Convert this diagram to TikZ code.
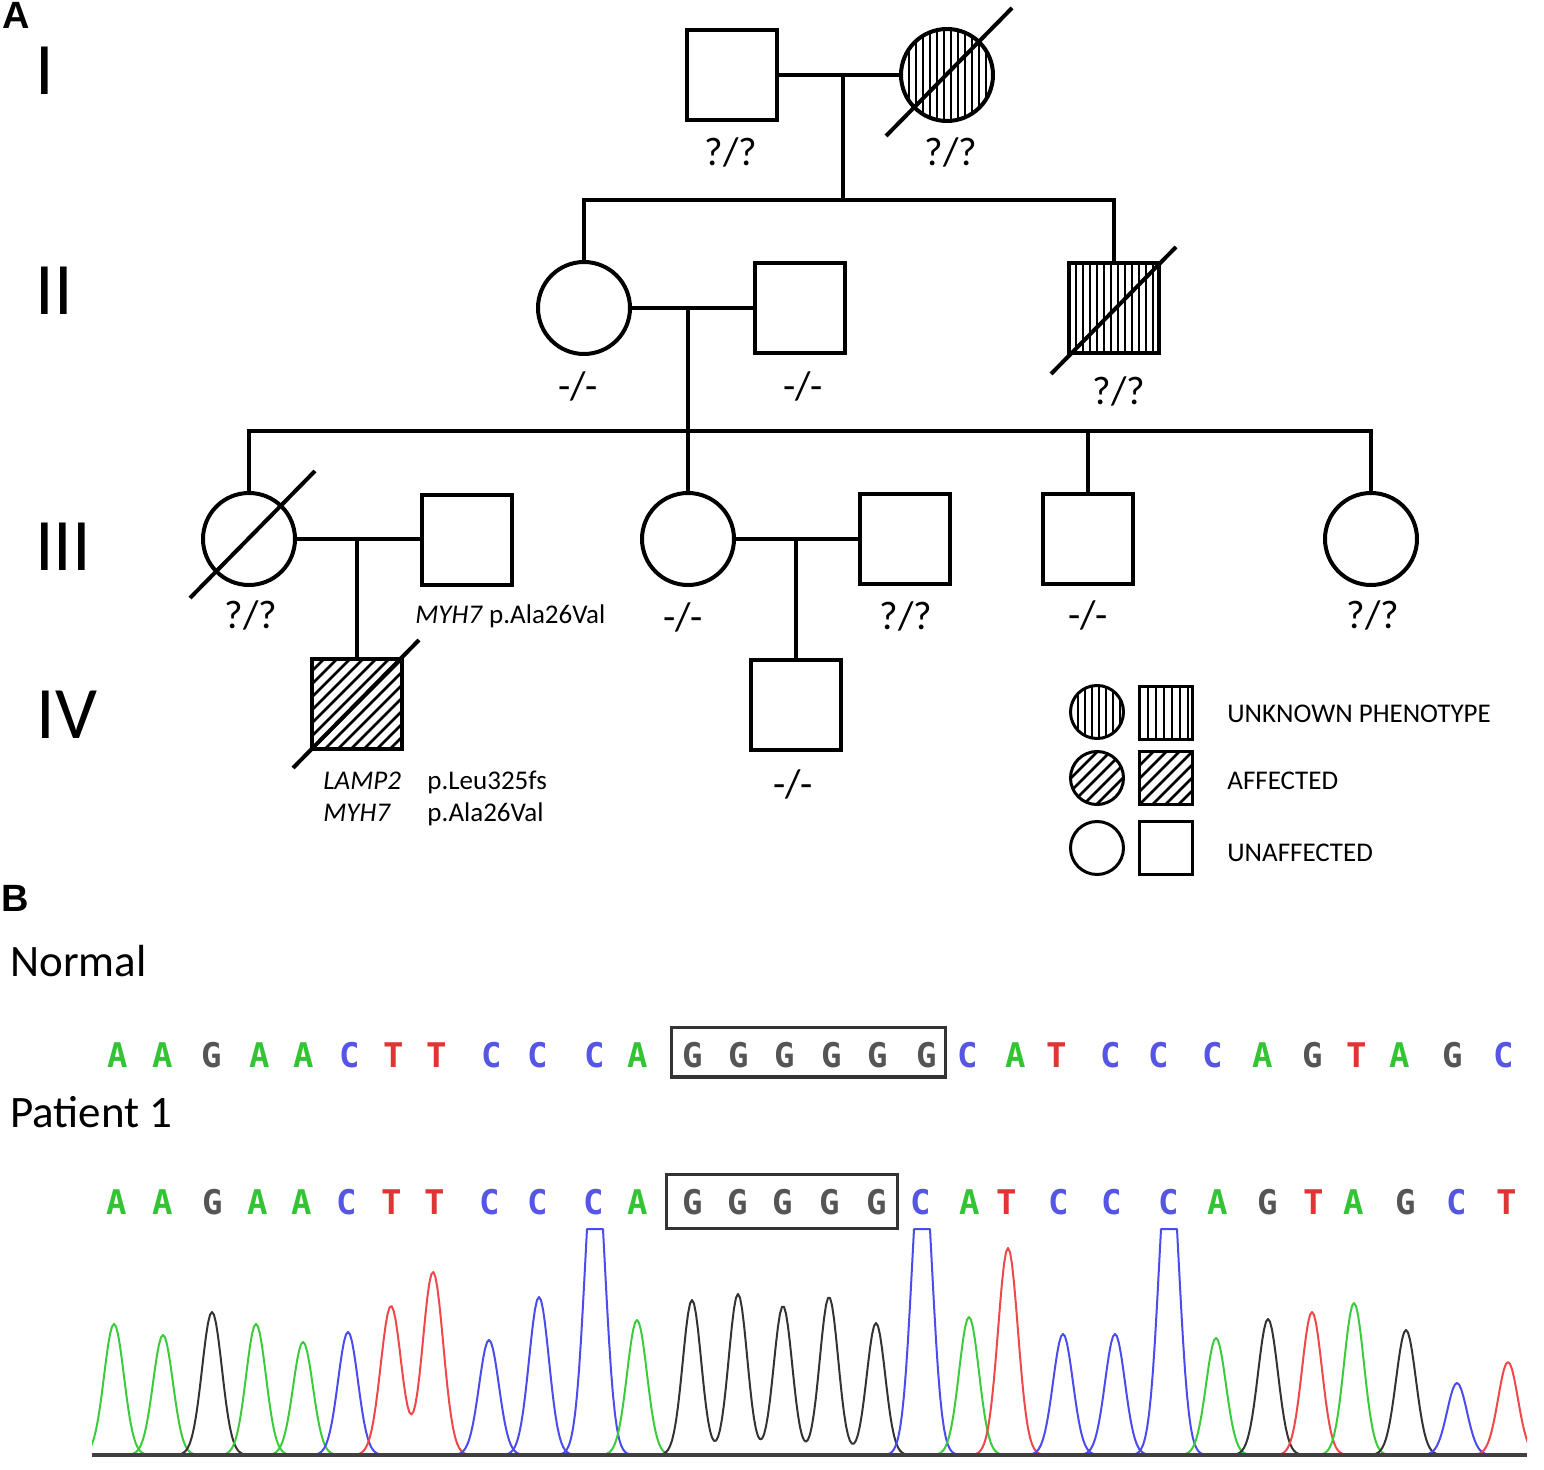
\documentclass[tikz,border=0pt]{standalone}
\usepackage{fontspec}
\setmainfont{Carlito}
\newfontfamily\panelfont{Liberation Sans}
\newfontfamily\seqfont{DejaVu Sans Mono}
\usetikzlibrary{calc}
\definecolor{colA}{HTML}{33C433}
\definecolor{colC}{HTML}{5555E6}
\definecolor{colG}{HTML}{555555}
\definecolor{colT}{HTML}{E23434}
\definecolor{trA}{HTML}{3CCB3C}
\definecolor{trC}{HTML}{4B4BEE}
\definecolor{trG}{HTML}{333333}
\definecolor{trT}{HTML}{EE4848}
\tikzset{
  male/.style={draw, line width=2pt, rectangle, minimum size=45pt, inner sep=0pt},
  female/.style={draw, line width=2pt, circle, minimum size=46pt, inner sep=0pt},
  lmale/.style={draw, line width=1.5pt, rectangle, minimum size=26.5pt, inner sep=0pt},
  lfemale/.style={draw, line width=1.5pt, circle, minimum size=26.5pt, inner sep=0pt},
  rel/.style={line width=2pt, line cap=rect},
  dec/.style={line width=2pt},
  vh/.style={line width=0.75pt},
  dh/.style={line width=1.3pt},
  gt/.style={font=\fontsize{20}{24}\selectfont, anchor=base, inner sep=0pt},
  gen/.style={font=\fontsize{37}{40}\selectfont, anchor=base, inner sep=0pt},
  mut/.style={font=\fontsize{13.5}{16}\selectfont, anchor=base west, inner sep=0pt},
  panel/.style={font=\panelfont\bfseries\fontsize{19}{22}\selectfont, anchor=base west, inner sep=0pt},
  seqname/.style={font=\fontsize{22.5}{26}\selectfont, anchor=base west, inner sep=0pt},
  base/.style={font=\seqfont\bfseries\fontsize{17}{20}\selectfont, anchor=base, inner sep=0pt},
  seqbox/.style={draw=black!80, line width=1.5pt},
  trace/.style={line width=1pt, line join=round}
}
% vertical hatch: centre, half size, spacing
\newcommand\vhsq[3]{\begin{scope}[shift={(#1)}]\clip (-#2,-#2) rectangle (#2,#2);
  \foreach \k in {0,...,30} {\pgfmathsetmacro\d{-#2+\k*#3}
    \draw[vh] (\d,-#2) -- (\d,#2);}\end{scope}}
\newcommand\vhci[3]{\begin{scope}[shift={(#1)}]\clip (0,0) circle[radius=#2*0.5pt];
  \foreach \k in {0,...,30} {\pgfmathsetmacro\d{-#2+\k*#3}
    \draw[vh] (\d,-#2) -- (\d,#2);}\end{scope}}
% diagonal hatch
\newcommand\dhsq[3]{\begin{scope}[shift={(#1)}]\clip (-#2,-#2) rectangle (#2,#2);
  \foreach \k in {0,...,22} {\pgfmathsetmacro\d{-130+\k*#3}
    \draw[dh] (\d-70,70) -- (\d+70,-70);}\end{scope}}
\newcommand\dhci[3]{\begin{scope}[shift={(#1)}]\clip (0,0) circle[radius=#2*0.5pt];
  \foreach \k in {0,...,22} {\pgfmathsetmacro\d{-130+\k*#3}
    \draw[dh] (\d-70,70) -- (\d+70,-70);}\end{scope}}
% chromatogram peak: colour, centre, height, cap
\newcommand\pk[4]{\draw[trace,#1] plot[domain=#2-44:#2+44, samples=45]
  (\x,{max(1455-#3*exp(-((\x-#2)/14)^2),#4)});}
\begin{document}
\begin{tikzpicture}[x=0.5pt,y=-0.5pt]
\useasboundingbox[fill=white] (0,0) rectangle (1544,1470);

% ---------------- Panel A ----------------
\node[panel] (pA) at (2,29) {A};
\node[gen] (gen1) at (45,95) {I};
\node[gen] (gen2) at (54,315) {II};
\node[gen] (gen3) at (63,571) {III};
\node[gen] (gen4) at (67,739) {IV};

% generation I
\node[male] (I1) at (732,75) {};
\node[female] (I2) at (947,75) {};
\vhci{I2}{45}{7}
\draw[dec] ($(I2)+(-61,61)$) -- ($(I2)+(65,-67)$);
\draw[rel] (I1.east) -- (I2.west);
\coordinate (m1) at (843,75);
\coordinate (s1) at (843,200);
\draw[rel] (m1) -- (s1);

% generation II
\node[female] (II1) at (584,308) {};
\node[male] (II2) at (800,308) {};
\node[male] (II3) at (1114,308) {};
\vhsq{II3}{45}{7}
\draw[dec] ($(II3)+(-63,66)$) -- ($(II3)+(62,-61)$);
\draw[rel] (II1.north) -- (II1.north |- s1) -- (II3.north |- s1) -- (II3.north);
\draw[rel] (II1.east) -- (II2.west);
\coordinate (m2) at (688,308);
\coordinate (s2) at (688,431);

% generation III
\node[female] (III1) at (249,539) {};
\node[male] (III2) at (467,540) {};
\node[female] (III3) at (688,539) {};
\node[male] (III4) at (905,539) {};
\node[male] (III5) at (1088,539) {};
\node[female] (III6) at (1371,539) {};
\draw[dec] ($(III1)+(-59,59)$) -- ($(III1)+(66,-68)$);
\draw[rel] (m2) -- (III3.north);
\draw[rel] (III1.north) -- (III1.north |- s2) -- (III6.north |- s2) -- (III6.north);
\draw[rel] (III5.north |- s2) -- (III5.north);
\draw[rel] (III1.east) -- (III2.west |- III1.east);
\draw[rel] (III3.east) -- (III4.west);
\coordinate (m3) at (357,539);
\coordinate (m4) at (796,539);

% generation IV
\node[male] (IV1) at (357,704) {};
\node[male] (IV2) at (796,705) {};
\dhsq{IV1}{45}{13}
\draw[dec] ($(IV1)+(-64,64)$) -- ($(IV1)+(62,-64)$);
\draw[rel] (m3) -- (IV1.north);
\draw[rel] (m4) -- (IV2.north);

% genotype labels
\node[gt] (gI1) at (731,166) {?/?};
\node[gt] (gI2) at (951,166) {?/?};
\node[gt] (gII1) at (578,400) {-/-};
\node[gt] (gII2) at (803,400) {-/-};
\node[gt] (gII3) at (1119,405) {?/?};
\node[gt] (gIII1) at (251,629) {?/?};
\node[gt] (gIII3) at (683,631) {-/-};
\node[gt] (gIII4) at (906,630) {?/?};
\node[gt] (gIII5) at (1088,629) {-/-};
\node[gt] (gIII6) at (1373,629) {?/?};
\node[gt] (gIV2) at (793,798) {-/-};

% mutation labels
\node[mut] (mIII2) at (415,624) {\textit{MYH7} p.Ala26Val};
\node[mut] (mIV1a) at (323,790) {\textit{LAMP2}};
\node[mut] (mIV1b) at (427,790) {p.Leu325fs};
\node[mut] (mIV1c) at (323,822) {\textit{MYH7}};
\node[mut] (mIV1d) at (427,822) {p.Ala26Val};

% legend
\node[lfemale] (L1c) at (1097,712) {};
\node[lmale] (L1s) at (1166,713) {};
\node[lfemale] (L2c) at (1097,778) {};
\node[lmale] (L2s) at (1166,778) {};
\node[lfemale] (L3c) at (1097,848) {};
\node[lmale] (L3s) at (1166,848) {};
\vhci{L1c}{26}{7}
\vhsq{L1s}{26}{8}
\dhci{L2c}{26}{13}
\dhsq{L2s}{26}{13}
\node[mut] (t1) at (1227,723) {UNKNOWN PHENOTYPE};
\node[mut] (t2) at (1227,790) {AFFECTED};
\node[mut] (t3) at (1227,862) {UNAFFECTED};

% ---------------- Panel B ----------------
\node[panel] (pB) at (1,912) {B};
\node[seqname] (normal) at (10,977) {Normal};
\node[seqname] (patient) at (10,1127) {Patient 1};

\foreach \l/\xx [count=\i] in {A/118,A/163,G/212,A/260,A/304,C/350,T/394,T/437,C/492,C/538,C/595,A/638,
  G/693,G/739,G/785,G/832,G/878,G/927,C/968,A/1016,T/1057,C/1111,C/1159,C/1213,A/1263,G/1313,T/1357,A/1400,G/1453,C/1504}
  \node[base, text=col\l] (n\i) at (\xx,1067) {\l};
\draw[seqbox] (671,1028) rectangle (945,1077);

\foreach \l/\xx [count=\i] in {A/117,A/163,G/213,A/258,A/302,C/347,T/392,T/435,C/490,C/538,C/594,A/638,
  G/693,G/738,G/783,G/830,G/877,C/921,A/970,T/1007,C/1059,C/1112,C/1169,A/1218,G/1268,T/1314,A/1354,G/1406,C/1457,T/1507}
  \node[base, text=col\l] (p\i) at (\xx,1214) {\l};
\draw[seqbox] (666,1174) rectangle (897,1228);

% chromatogram
\begin{scope}
\clip (92,1200) rectangle (1527,1460);
\pk{trA}{114}{131}{0}
\pk{trA}{163}{120}{0}
\pk{trG}{212}{143}{0}
\pk{trA}{256}{131}{0}
\pk{trA}{303}{113}{0}
\pk{trC}{348}{123}{0}
\draw[trace,trT] plot[domain=350:475, samples=64]
  (\x,{1455-149*exp(-((\x-391)/14.5)^2)-183*exp(-((\x-433)/14.5)^2)});
\pk{trC}{489}{115}{0}
\pk{trC}{539}{158}{0}
\pk{trC}{595}{313}{1229}
\pk{trA}{637}{135}{0}
\draw[trace,trG] plot[domain=652:918, samples=134]
  (\x,{1455-155*exp(-((\x-692)/13)^2)-161*exp(-((\x-738)/13)^2)-149*exp(-((\x-783)/13)^2)-158*exp(-((\x-829)/13)^2)-132*exp(-((\x-876)/13)^2)});
\pk{trC}{922}{313}{1229}
\pk{trA}{969}{138}{0}
\pk{trT}{1008}{207}{0}
\pk{trC}{1063}{121}{0}
\pk{trC}{1115}{121}{0}
\pk{trC}{1169}{313}{1229}
\pk{trA}{1216}{117}{0}
\pk{trG}{1268}{136}{0}
\pk{trT}{1312}{143}{0}
\pk{trA}{1354}{152}{0}
\pk{trG}{1406}{125}{0}
\pk{trC}{1457}{72}{0}
\pk{trT}{1508}{93}{0}
\end{scope}
\coordinate (b0) at (92,1455);
\coordinate (b1) at (1527,1455);
\draw[line width=1.6pt, black!75] (b0) -- (b1);
\end{tikzpicture}
\end{document}
